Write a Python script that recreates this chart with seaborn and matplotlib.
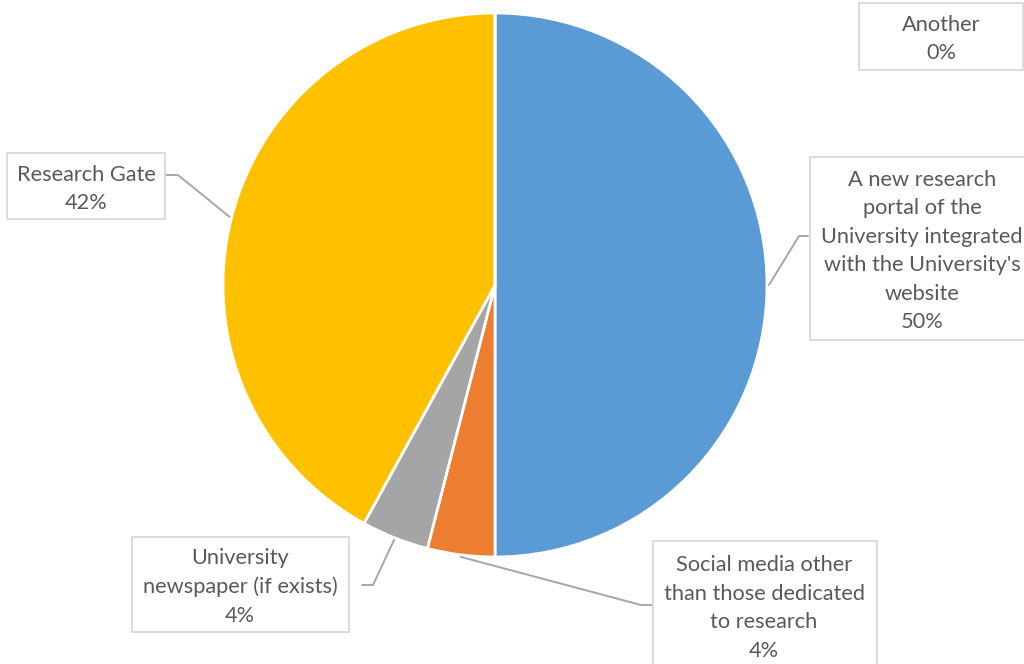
import numpy as np
import matplotlib.pyplot as plt
import matplotlib.patches as mpatches
import seaborn as sns

# data
categories = ["A new research\nportal of the\nUniversity integrated\nwith the University's\nwebsite",
              "Social media other\nthan those dedicated\nto research",
              "University\nnewspaper (if exists)",
              "Research Gate",
              "Another"]
values = [50, 4, 4, 42, 0]
pct_labels = ["50%", "4%", "4%", "42%", "0%"]
colors = ["#5B9BD5", "#ED7D31", "#A5A5A5", "#FFC000", "#4472C4"]

W, H = 1024, 664
def py(y):
    return H - y

sns.set_theme(style="white")
plt.rcParams['font.family'] = ['Lato', 'DejaVu Sans']

fig = plt.figure(figsize=(W / 100, H / 100), dpi=100)
ax = fig.add_axes([0, 0, 1, 1])

cx, cy, r = 495, py(285), 272
wedges, _ = ax.pie(values, colors=colors, startangle=90, counterclock=False,
                   center=(cx, cy), radius=r,
                   wedgeprops=dict(edgecolor="white", linewidth=2))
ax.set_xlim(0, W)
ax.set_ylim(0, H)
ax.set_aspect("equal")
ax.axis("off")

# label boxes: (x0, y0, x1, y1) in pixels, text centre
boxes = [
    ((810, 157, 1040, 340), (922, 251)),
    ((653, 541, 877, 680), (764, 608)),
    ((132, 537, 349, 632), (240, 587)),
    ((7, 153, 165, 219), (86, 189)),
    ((859, 3, 1023, 70), (941, 39)),
]
# leader line elbows: start point, elbow
leaders = [
    ((808, 236), (799, 236)),
    ((653, 605), (641, 605)),
    ((362, 585), (373, 585)),
    ((165, 175), (178, 175)),
    None,
]

for i, w in enumerate(wedges):
    (x0, y0, x1, y1), (tx, ty) = boxes[i]
    ax.add_patch(mpatches.Rectangle((x0, py(y1)), x1 - x0, y1 - y0,
                                    facecolor="white", edgecolor="#D9D9D9",
                                    linewidth=1.3, zorder=3))
    ax.text(tx, py(ty), categories[i] + "\n" + pct_labels[i], ha="center", va="center",
            fontsize=15.7, color="#595959", linespacing=1.53, zorder=4)
    if leaders[i] is not None:
        mid = np.deg2rad((w.theta1 + w.theta2) / 2)
        ex, ey = cx + (r + 2) * np.cos(mid), cy + (r + 2) * np.sin(mid)
        (sx, sy), (bx, by) = leaders[i]
        ax.plot([sx, bx, ex], [py(sy), py(by), ey], color="#A6A6A6", lw=1.4, zorder=2)

fig.savefig("out.png", dpi=100)
